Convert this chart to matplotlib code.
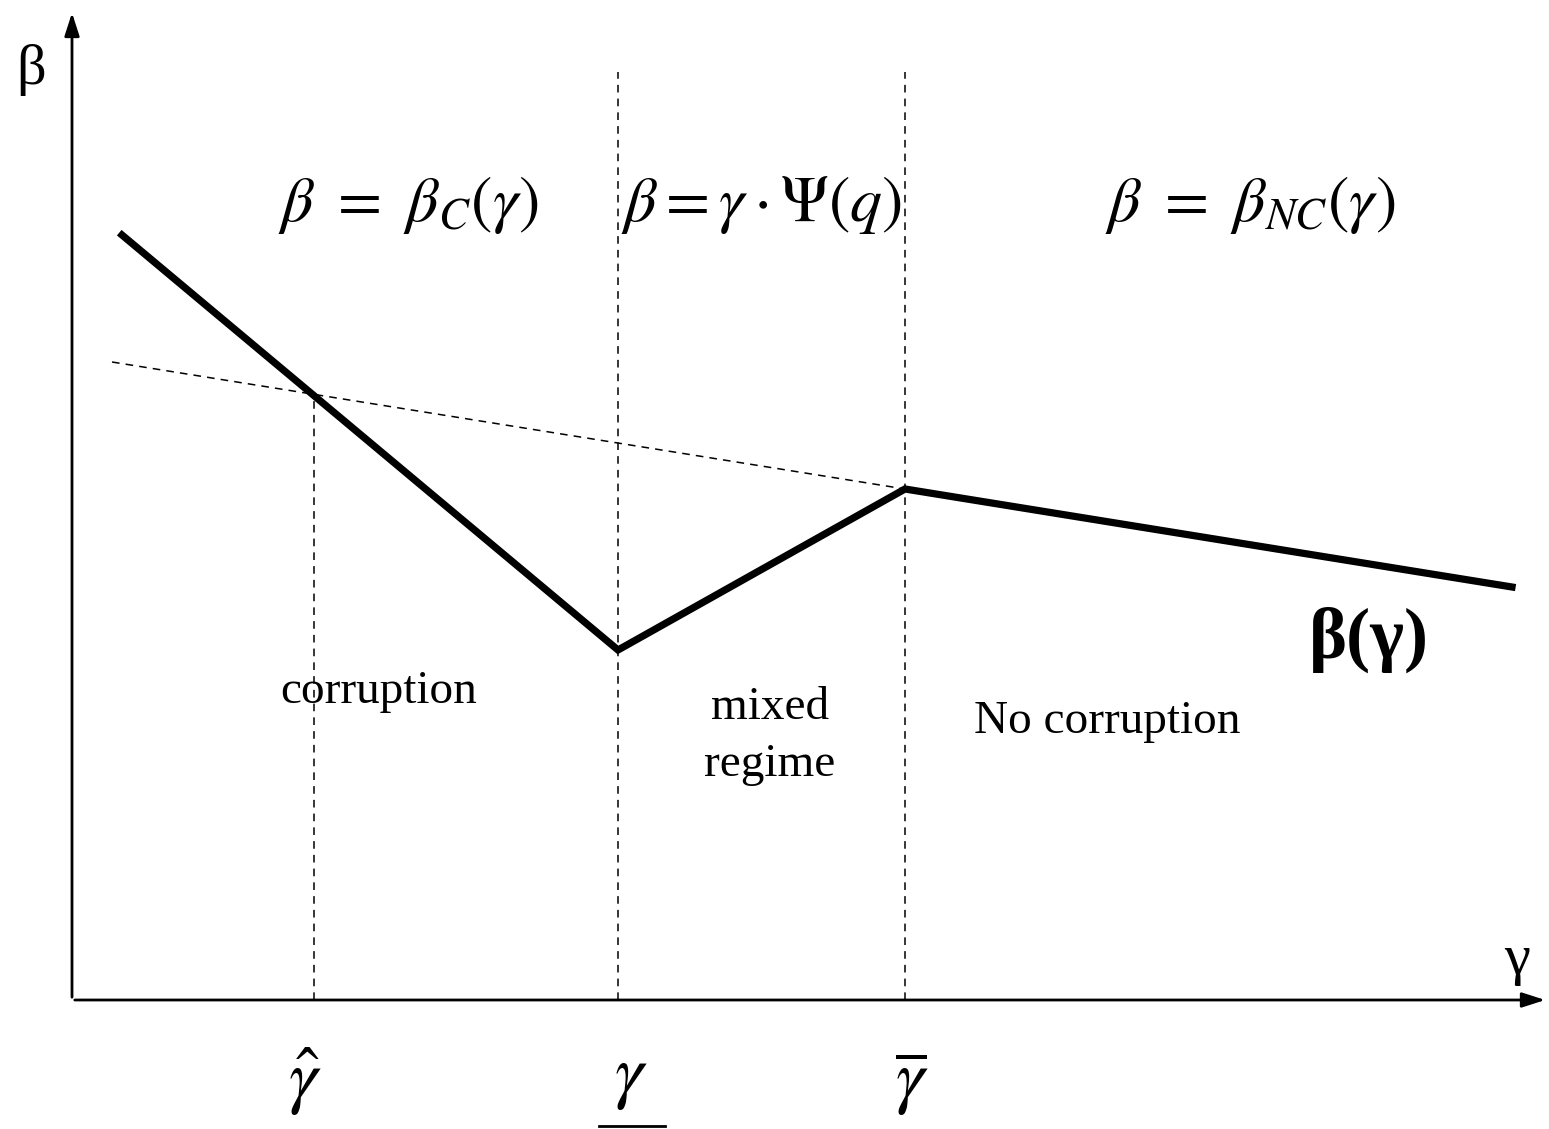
import numpy as np
import matplotlib.pyplot as plt

plt.rcParams['mathtext.fontset'] = 'stix'
plt.rcParams['font.family'] = 'Liberation Serif'

# piecewise beta(gamma) curve
gamma_curve = [0.50, 5.46, 8.33, 14.40]
beta_curve = [7.65, 3.50, 5.11, 4.13]

# dashed reference line gamma*Psi(q)
gamma_ref = [0.40, 8.33]
beta_ref = [6.38, 5.11]

# thresholds
gamma_hat = 2.42
beta_hat = 6.06
gamma_low = 5.46
gamma_high = 8.33
v_top = 9.28

fig = plt.figure(figsize=(15.49, 11.29), dpi=100)
ax = fig.add_axes([0, 0, 1, 1])
ax.set_xlim(-0.72, 14.77)
ax.set_ylim(-1.29, 10.0)
ax.axis('off')

# axes with arrows
ax.annotate('', xy=(0, 9.9), xytext=(0, 0),
            arrowprops=dict(arrowstyle='-|>,head_length=1.4,head_width=0.45', lw=2, color='black'))
ax.annotate('', xy=(14.76, 0), xytext=(0, 0),
            arrowprops=dict(arrowstyle='-|>,head_length=1.4,head_width=0.45', lw=2, color='black'))

# dashed lines
ax.plot(gamma_ref, beta_ref, 'k--', lw=1.1, dashes=(5, 4))
ax.plot([gamma_hat, gamma_hat], [0, beta_hat], 'k--', lw=1.1, dashes=(5, 4))
ax.plot([gamma_low, gamma_low], [0, v_top], 'k--', lw=1.1, dashes=(5, 4))
ax.plot([gamma_high, gamma_high], [0, v_top], 'k--', lw=1.1, dashes=(5, 4))

# main curve
ax.plot(gamma_curve, beta_curve, 'k-', lw=5.2, solid_joinstyle='miter')

# axis labels
ax.text(-0.41, 9.3, 'β', fontsize=42, ha='center', va='center')
ax.text(14.45, 0.40, 'γ', fontsize=42, ha='center', va='center')

# regime formulas
ax.text(3.36, 7.95, r'$\beta\ =\ \beta_C\left(\gamma\right)$', fontsize=46, ha='center', va='center')
ax.text(6.90, 7.95, r'$\beta = \gamma\cdot\Psi\left(q\right)$', fontsize=46, ha='center', va='center')
ax.text(11.78, 7.95, r'$\beta\ =\ \beta_{NC}\left(\gamma\right)$', fontsize=46, ha='center', va='center')

# regime labels
ax.text(3.07, 3.08, 'corruption', fontsize=34, ha='center', va='center')
ax.text(6.98, 2.92, 'mixed', fontsize=34, ha='center', va='center')
ax.text(6.98, 2.35, 'regime', fontsize=34, ha='center', va='center')
ax.text(10.35, 2.78, 'No corruption', fontsize=34, ha='center', va='center')

# curve label
ax.text(12.97, 3.60, 'β(γ)', fontsize=52, fontweight='bold', ha='center', va='center')

# threshold labels
ax.text(gamma_hat - 0.09, -0.82, r'$\hat{\gamma}$', fontsize=52, ha='center', va='center')
ax.text(gamma_low + 0.13, -0.80, r'$\gamma$', fontsize=52, ha='center', va='center')
ax.plot([gamma_low - 0.19, gamma_low + 0.47], [-1.26, -1.26], 'k-', lw=2)
ax.text(gamma_high + 0.07, -0.84, r'$\overline{\gamma}$', fontsize=52, ha='center', va='center')

fig.savefig('out.png', dpi=100)
